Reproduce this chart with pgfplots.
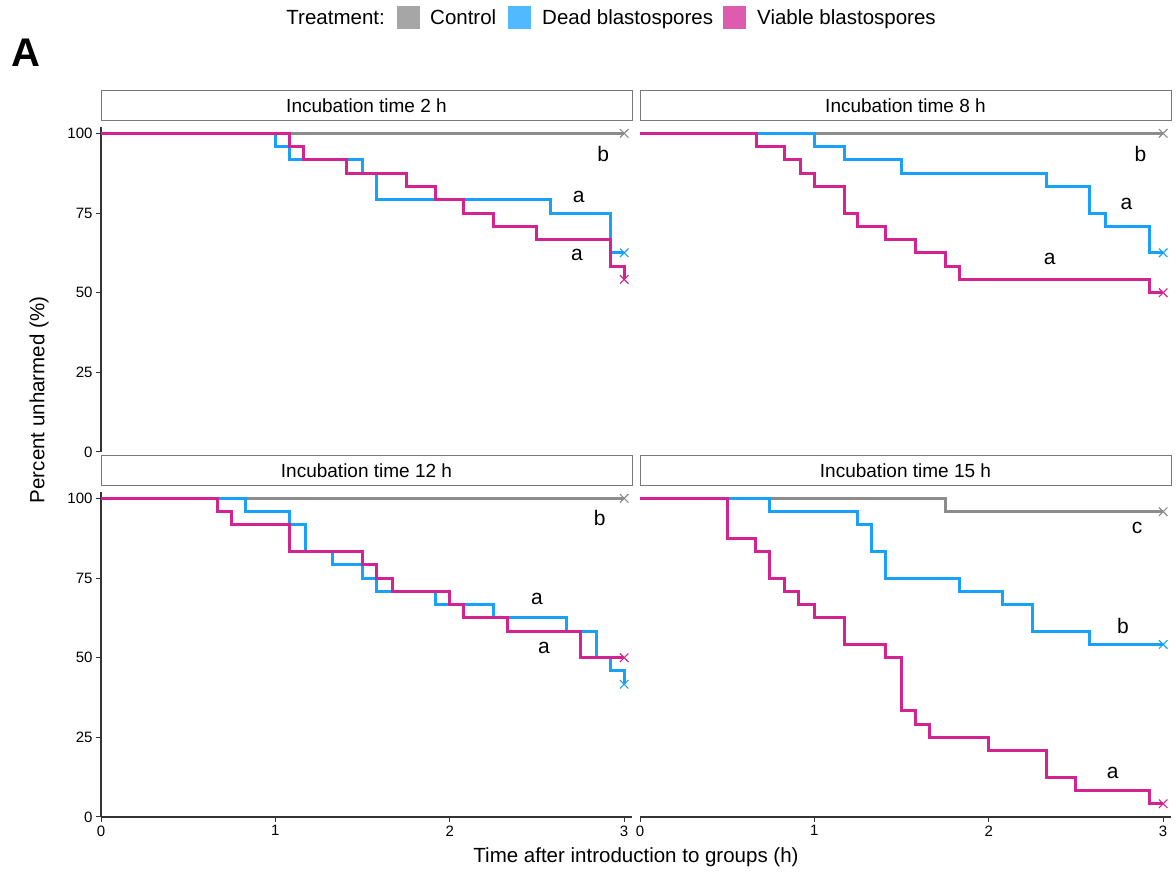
\documentclass[border=0pt]{standalone}
\usepackage{pgfplots}
\pgfplotsset{compat=1.18}
\usepackage{fontspec}
\setmainfont{Liberation Sans}
\definecolor{ctrl}{RGB}{140,140,140}
\definecolor{dead}{RGB}{25,160,250}
\definecolor{viab}{RGB}{210,35,145}
\definecolor{ctrlL}{RGB}{166,166,166}
\definecolor{deadL}{RGB}{80,185,255}
\definecolor{viabL}{RGB}{222,92,175}
\definecolor{axgray}{RGB}{51,51,51}
\definecolor{stripgray}{RGB}{120,120,120}
\tikzset{lab/.style={font=\fontsize{21}{24}\selectfont},
  leg/.style={font=\fontsize{20.5}{24}\selectfont, inner sep=0pt}}
\pgfplotsset{
 panel/.style={scale only axis, width=531pt, height=325pt, xmin=0, xmax=3.045, ymin=0, ymax=102, clip=false,
   tick align=outside, major tick length=5pt, tick style={axgray, line width=1pt},
   axis line style={axgray, line width=1.1pt},
   ytick={0,25,50,75,100}, xtick={0,1,2,3},
   tick label style={font=\fontsize{15}{18}\selectfont},
   /pgf/number format/assume math mode=true,
   title style={at={(0.5,1)}, anchor=south, yshift=0pt, draw=stripgray, fill=white, line width=0.8pt,
     minimum width=531pt, minimum height=30pt, inner sep=0pt, font=\fontsize{19}{22}\selectfont},
 },
 cl/.style={ctrl, line width=3pt, const plot, no marks},
 dl/.style={dead, line width=3pt, const plot, no marks},
 vl/.style={viab, line width=3pt, const plot, no marks},
 cx/.style={ctrl, only marks, mark=x, mark size=6pt, mark options={line width=1.1pt}},
 dx/.style={dead, only marks, mark=x, mark size=6pt, mark options={line width=1.1pt}},
 vx/.style={viab, only marks, mark=x, mark size=6pt, mark options={line width=1.1pt}},
}
\begin{document}
\begin{tikzpicture}[x=1pt,y=1pt]
\useasboundingbox (0,0) rectangle (1176,872);
% legend
\node[leg, anchor=base east] at (385,847) {Treatment:};
\fill[ctrlL] (397,843) rectangle (420,866);
\node[leg, anchor=base west] at (430,847) {Control};
\fill[deadL] (508,843) rectangle (531,866);
\node[leg, anchor=base west] at (542,847) {Dead blastospores};
\fill[viabL] (723,843) rectangle (746,866);
\node[leg, anchor=base west] at (757,847) {Viable blastospores};
\node[font=\bfseries\fontsize{40}{44}\selectfont, inner sep=0pt] at (26,819) {A};
% axis titles
\node[rotate=90, font=\fontsize{20.5}{24}\selectfont] at (39,472) {Percent unharmed (\%)};
\node[font=\fontsize{20.5}{24}\selectfont] at (636,15) {Time after introduction to groups (h)};

% Panel 1: 2 h
\begin{axis}[panel, at={(101pt,420pt)}, anchor=south west, title={Incubation time 2 h},
  axis x line=none, axis y line*=left, xtick=\empty]
\addplot[cl] coordinates {(0,100)(3,100)};
\addplot[cx] coordinates {(3,100)};
\addplot[dl] coordinates {(0,100)(1.0,95.83)(1.08,91.67)(1.5,87.5)(1.58,79.17)(2.58,75)(2.92,62.5)(3,62.5)};
\addplot[dx] coordinates {(3,62.5)};
\addplot[vl] coordinates {(0,100)(1.08,95.83)(1.16,91.67)(1.41,87.5)(1.75,83.33)(1.92,79.17)(2.08,75)(2.25,70.83)(2.5,66.67)(2.92,58.33)(3,54.17)};
\addplot[vx] coordinates {(3,54.17)};
\node[lab] at (axis cs:2.88,93.5) {b};
\node[lab] at (axis cs:2.74,79.9) {a};
\node[lab] at (axis cs:2.73,61.7) {a};
\end{axis}

% Panel 2: 8 h
\begin{axis}[panel, at={(640pt,420pt)}, anchor=south west, title={Incubation time 8 h},
  axis x line=none, axis y line=none, xtick=\empty, ytick=\empty]
\addplot[cl] coordinates {(0,100)(3,100)};
\addplot[cx] coordinates {(3,100)};
\addplot[dl] coordinates {(0,100)(1.0,95.83)(1.17,91.67)(1.5,87.5)(2.33,83.33)(2.58,75)(2.67,70.83)(2.92,62.5)(3,62.5)};
\addplot[dx] coordinates {(3,62.5)};
\addplot[vl] coordinates {(0,100)(0.67,95.83)(0.83,91.67)(0.92,87.5)(1.0,83.33)(1.17,75)(1.25,70.83)(1.41,66.67)(1.58,62.5)(1.75,58.33)(1.83,54.17)(2.92,50)(3,50)};
\addplot[vx] coordinates {(3,50)};
\node[lab] at (axis cs:2.87,93.5) {b};
\node[lab] at (axis cs:2.79,77.7) {a};
\node[lab] at (axis cs:2.35,60.5) {a};
\end{axis}

% Panel 3: 12 h
\begin{axis}[panel, at={(101pt,55pt)}, anchor=south west, title={Incubation time 12 h},
  axis x line*=bottom, axis y line*=left]
\addplot[cl] coordinates {(0,100)(3,100)};
\addplot[cx] coordinates {(3,100)};
\addplot[dl] coordinates {(0,100)(0.83,95.83)(1.08,91.67)(1.17,83.33)(1.33,79.17)(1.5,75)(1.58,70.83)(1.92,66.67)(2.25,62.5)(2.67,58.33)(2.84,50)(2.92,45.83)(3,41.67)};
\addplot[dx] coordinates {(3,41.67)};
\addplot[vl] coordinates {(0,100)(0.67,95.83)(0.75,91.67)(1.08,83.33)(1.5,79.17)(1.58,75)(1.67,70.83)(2.0,66.67)(2.08,62.5)(2.33,58.33)(2.75,50)(3,50)};
\addplot[vx] coordinates {(3,50)};
\node[lab] at (axis cs:2.86,93.7) {b};
\node[lab] at (axis cs:2.50,68.3) {a};
\node[lab] at (axis cs:2.54,53.1) {a};
\end{axis}

% Panel 4: 15 h
\begin{axis}[panel, at={(640pt,55pt)}, anchor=south west, title={Incubation time 15 h},
  axis x line*=bottom, axis y line=none, ytick=\empty]
\addplot[cl] coordinates {(0,100)(1.75,95.83)(3,95.83)};
\addplot[cx] coordinates {(3,95.83)};
\addplot[dl] coordinates {(0,100)(0.74,95.83)(1.25,91.67)(1.33,83.33)(1.41,75)(1.83,70.83)(2.08,66.67)(2.25,58.33)(2.58,54.17)(3,54.17)};
\addplot[dx] coordinates {(3,54.17)};
\addplot[vl] coordinates {(0,100)(0.5,87.5)(0.66,83.33)(0.74,75)(0.83,70.83)(0.91,66.67)(1.0,62.5)(1.17,54.17)(1.41,50)(1.5,33.33)(1.58,29.17)(1.66,25)(2.0,20.83)(2.33,12.5)(2.5,8.33)(2.92,4.17)(3,4.17)};
\addplot[vx] coordinates {(3,4.17)};
\node[lab] at (axis cs:2.85,90.8) {c};
\node[lab] at (axis cs:2.77,59.9) {b};
\node[lab] at (axis cs:2.71,13.8) {a};
\end{axis}
\end{tikzpicture}
\end{document}
